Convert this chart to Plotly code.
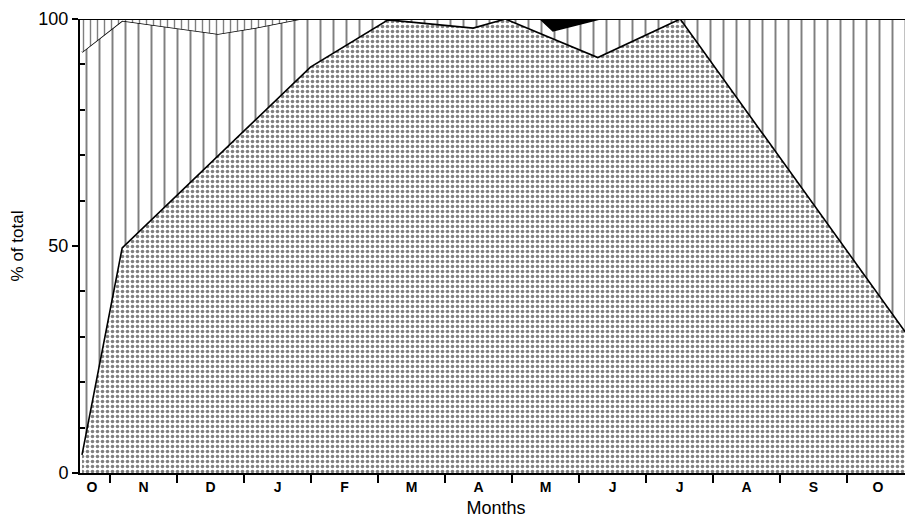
import plotly.graph_objects as go

# x in month units: 0 = 1 Oct, 1 = 1 Nov, ... 12 = 1 Oct (next year)
# Cumulative boundaries (% of total)
stipple_x = [0.58, 1.18, 3.99, 5.15, 6.42, 6.90, 8.28, 9.51, 12.97]
stipple_y = [4.0, 49.6, 89.4, 99.8, 98.0, 100.0, 91.5, 100.0, 29.0]

oct_jan_x = [0.58, 1.18, 2.61, 3.16, 3.84]
oct_jan_y = [92.7, 99.6, 96.7, 98.0, 100.0]

may_x = [7.42, 7.61, 8.31]
may_y = [100.0, 97.4, 100.0]

end_x = [12.97]
end_y = [100.0]

hatch_x = oct_jan_x + may_x + end_x
hatch_y = oct_jan_y + may_y + end_y

month_labels = ["O", "N", "D", "J", "F", "M", "A", "M", "J", "J", "A", "S", "O"]
month_label_pos = [0.73, 1.5, 2.5, 3.5, 4.5, 5.5, 6.5, 7.5, 8.5, 9.5, 10.5, 11.5, 12.46]
month_bounds = list(range(1, 13))

line = dict(color="black", width=1.6)

fig = go.Figure()
fig.add_trace(go.Scatter(
    x=stipple_x, y=stipple_y, mode="lines", line=line, fill="tozeroy",
    fillcolor="white",
    fillpattern=dict(shape=".", fgcolor="black", bgcolor="white", size=5, solidity=0.4),
    showlegend=False, hoverinfo="skip"))
fig.add_trace(go.Scatter(
    x=hatch_x, y=hatch_y, mode="lines", line=line, fill="tonexty",
    fillcolor="white",
    fillpattern=dict(shape="|", fgcolor="black", bgcolor="white", size=13, solidity=0.15),
    showlegend=False, hoverinfo="skip"))
# Oct-Jan dashed category
fig.add_trace(go.Scatter(x=oct_jan_x, y=oct_jan_y, mode="lines", line=dict(width=0),
                         showlegend=False, hoverinfo="skip"))
fig.add_trace(go.Scatter(
    x=[oct_jan_x[0], oct_jan_x[-1]], y=[100, 100], mode="lines", line=line, fill="tonexty",
    fillcolor="white",
    fillpattern=dict(shape="|", fgcolor="black", bgcolor="white", size=7, solidity=0.2),
    showlegend=False, hoverinfo="skip"))
# May black category
fig.add_trace(go.Scatter(x=may_x, y=may_y, mode="lines", line=dict(width=0),
                         showlegend=False, hoverinfo="skip"))
fig.add_trace(go.Scatter(
    x=[may_x[0], may_x[-1]], y=[100, 100], mode="lines", line=line, fill="tonexty",
    fillcolor="black", showlegend=False, hoverinfo="skip"))

fig.add_shape(type="line", xref="paper", yref="y", x0=0, x1=1, y0=100, y1=100,
              line=dict(color="black", width=2))

fig.update_layout(
    width=905, height=519,
    margin=dict(l=72, r=1, t=11, b=54),
    paper_bgcolor="white", plot_bgcolor="white",
    font=dict(family="Liberation Sans, Arial, sans-serif", color="black"),
    xaxis=dict(
        range=[0.55, 12.97], showgrid=False, zeroline=False,
        showline=True, linecolor="black", linewidth=2,
        tickmode="array", tickvals=month_label_pos,
        ticktext=["<b>%s</b>" % m for m in month_labels],
        ticks="outside", ticklen=0, tickfont=dict(size=14),
        minor=dict(tickmode="array", tickvals=month_bounds, ticks="outside",
                   ticklen=8, tickwidth=2, tickcolor="black", showgrid=False),
        title=dict(text="Months", font=dict(size=18), standoff=8),
    ),
    yaxis=dict(
        range=[0, 100], showgrid=False, zeroline=False,
        showline=True, linecolor="black", linewidth=2,
        tickmode="array", tickvals=[0, 50, 100], ticktext=["0", "50", "100"],
        ticks="outside", ticklen=6, tickwidth=2, tickcolor="black",
        tickfont=dict(size=18),
        minor=dict(tickmode="array", tickvals=[10, 20, 30, 40, 60, 70, 80, 90],
                   ticks="inside", ticklen=5, tickwidth=1.5, tickcolor="black", showgrid=False),
        title=dict(text="% of total", font=dict(size=17), standoff=14),
    ),
)

fig.write_html("out.html")
